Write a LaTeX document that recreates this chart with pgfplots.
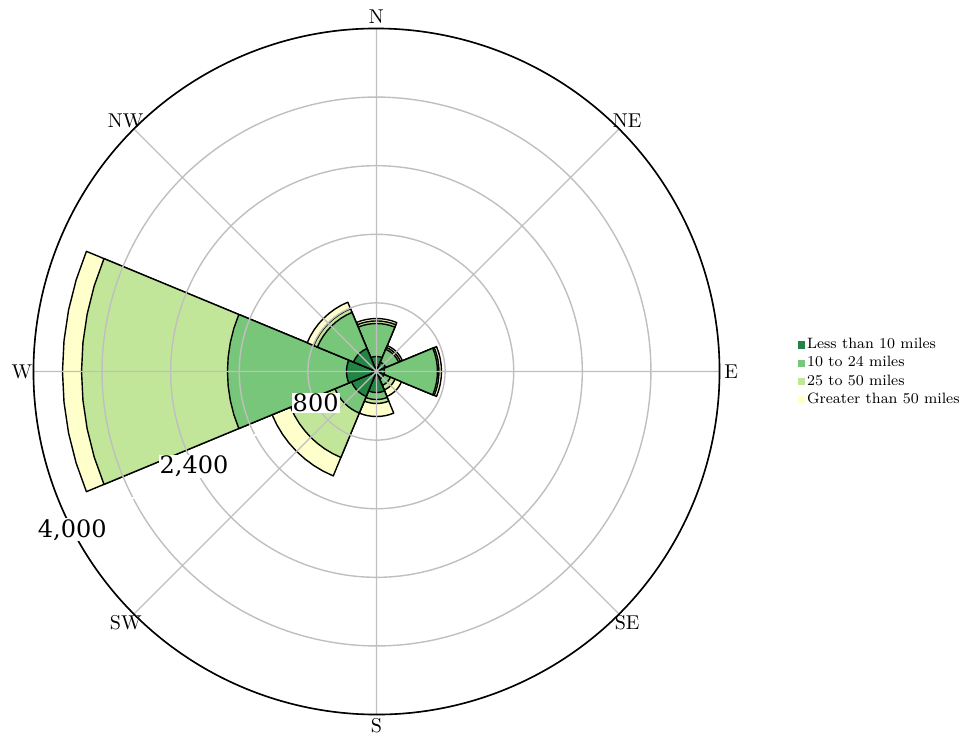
\documentclass[border=0pt]{standalone}
\usepackage{fontspec}
\usepackage{pgfplots}
\usepackage{pgfplotstable}
\pgfplotsset{compat=1.18}
\usepgfplotslibrary{polar}
\newfontfamily\dvs{DejaVu Serif}

\definecolor{cA}{HTML}{238443}
\definecolor{cB}{HTML}{78C679}
\definecolor{cC}{HTML}{C2E699}
\definecolor{cD}{HTML}{FFFFCC}

% direction (math degrees) and the four stacked counts
\pgfplotstableread{
ang  a    b     c     d
450  175  385   30    28
405  117  163   23    24
360  93   618   18    29
315  93   82    58    82
270  245  82    46    152
225  315  210   560   233
540  350  1388  1702  222
495  290  456   47    82
}\windtable

% sector from the centre, radius #2, centred on angle #1
\newcommand\windsector[3]{%
  \pgfmathsetmacro\sa{#1-22.5}\pgfmathsetmacro\sb{#1-16.875}%
  \pgfmathsetmacro\sc{#1-11.25}\pgfmathsetmacro\sd{#1-5.625}%
  \pgfmathsetmacro\se{#1}\pgfmathsetmacro\sf{#1+5.625}%
  \pgfmathsetmacro\sg{#1+11.25}\pgfmathsetmacro\sh{#1+16.875}%
  \pgfmathsetmacro\si{#1+22.5}%
  \edef\tmp{\noexpand\addplot[fill=#3, draw=black, line width=0.7pt, line join=round, forget plot]
    coordinates {(0,0) (\sa,#2) (\sb,#2) (\sc,#2) (\sd,#2) (\se,#2) (\sf,#2) (\sg,#2) (\sh,#2) (\si,#2)} -- cycle;}%
  \tmp
}

\begin{document}
\begin{tikzpicture}
\useasboundingbox (-188.25pt,-181.25pt) rectangle (293.75pt,185.75pt);
\begin{polaraxis}[
  at={(0,0)}, anchor=center,
  scale only axis, width=343pt, height=343pt,
  xmin=207.5, xmax=567.5, ymin=0, ymax=4000,
  xtick={225,270,...,540},
  xticklabels={SW,S,SE,E,NE,N,NW,W},
  ytick={800,1600,2400,3200,4000},
  yticklabels={800,,{2,400},,{4,000}},
  grid=major,
  major grid style={draw=black!25, line width=0.7pt},
  axis line style={black, line width=0.8pt},
  y axis line style={draw=none},
  major tick length=0pt,
  axis on top, clip=false,
  yticklabel style={anchor=center, font=\dvs\large, fill=white, inner sep=0.5pt},
  xticklabel style={font=\normalsize, anchor=center,
    xshift={5.8pt*cos(\tick)}, yshift={5.8pt*sin(\tick)}},
  legend image code/.code={\fill[#1] (0pt,-1.8pt) rectangle (3.6pt,1.8pt);},
  legend cell align=left,
  legend style={at={(1.037,0.546)}, anchor=north west, draw=none, fill=none,
    inner sep=0pt, font=\fontsize{7.5}{9}\selectfont, row sep=0pt,
    nodes={inner sep=1.2pt},
    row 2/.style={nodes={fill=black!8}},
    row 4/.style={nodes={fill=black!8}}},
]
\pgfplotsinvokeforeach{0,...,7}{
  \pgfplotstablegetelem{#1}{ang}\of\windtable \let\ang\pgfplotsretval
  \pgfplotstablegetelem{#1}{a}\of\windtable \pgfmathsetmacro\ra{\pgfplotsretval}
  \pgfplotstablegetelem{#1}{b}\of\windtable \pgfmathsetmacro\rb{\ra+\pgfplotsretval}
  \pgfplotstablegetelem{#1}{c}\of\windtable \pgfmathsetmacro\rc{\rb+\pgfplotsretval}
  \pgfplotstablegetelem{#1}{d}\of\windtable \pgfmathsetmacro\rd{\rc+\pgfplotsretval}
  \windsector{\ang}{\rd}{cD}
  \windsector{\ang}{\rc}{cC}
  \windsector{\ang}{\rb}{cB}
  \windsector{\ang}{\ra}{cA}
}
\addlegendimage{fill=cA, draw=none}
\addlegendentry{Less than 10 miles}
\addlegendimage{fill=cB, draw=none}
\addlegendentry{10 to 24 miles}
\addlegendimage{fill=cC, draw=none}
\addlegendentry{25 to 50 miles}
\addlegendimage{fill=cD, draw=none}
\addlegendentry{Greater than 50 miles}
\end{polaraxis}
\end{tikzpicture}
\end{document}
